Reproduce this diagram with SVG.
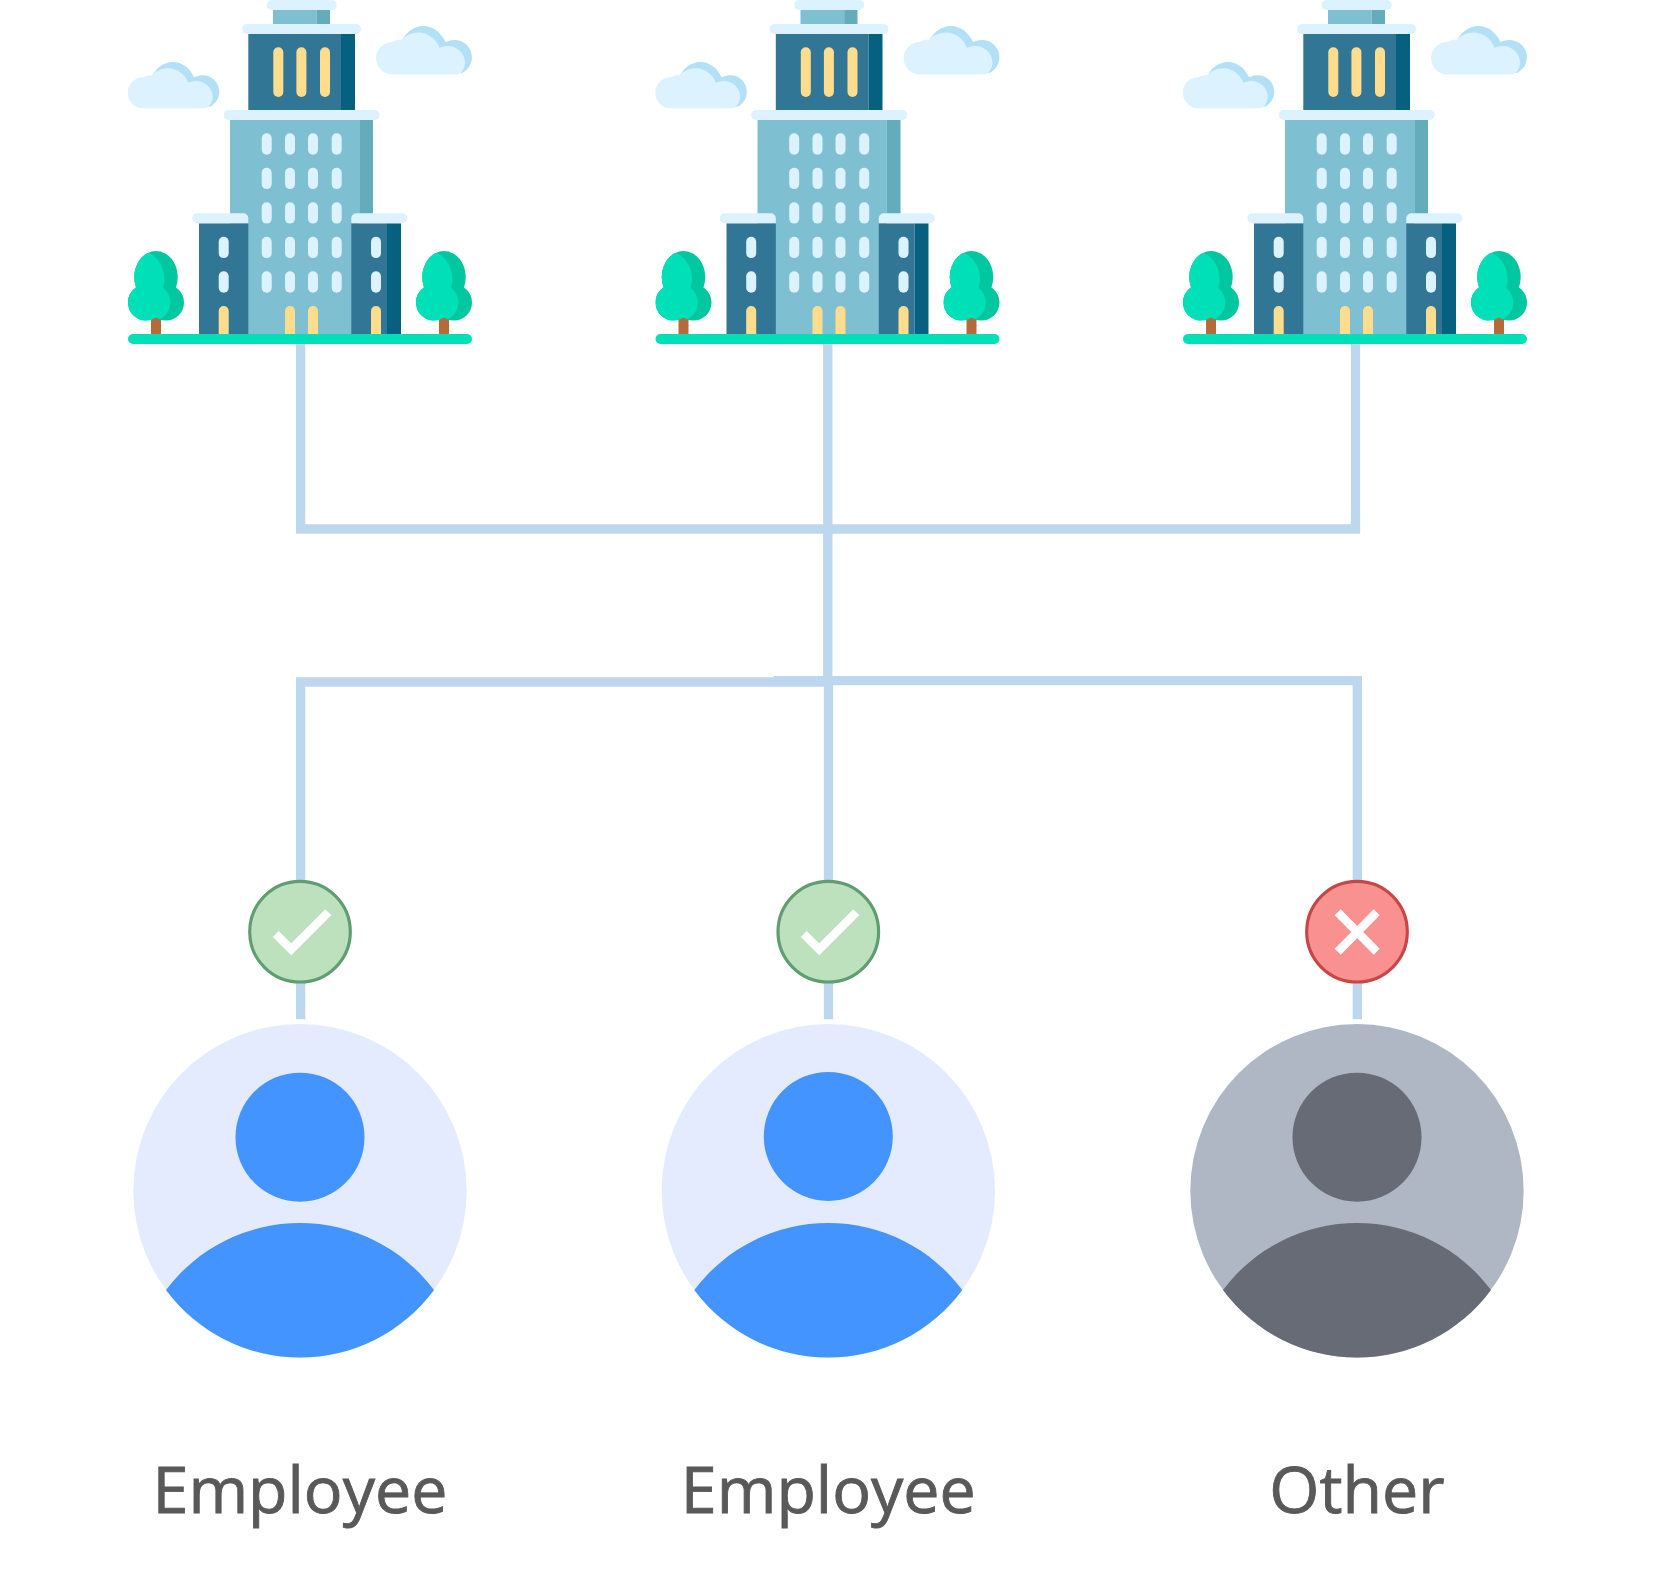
<svg xmlns="http://www.w3.org/2000/svg" width="1659" height="1581" viewBox="0 0 1659 1581">
<style>
.line{fill:none;stroke:#BDD7EE;stroke-width:9.3}
.cap,.win{fill:#DCF2FF}
.top{fill:#7EBFD1}.topd{fill:#64ABBC}
.blue{fill:#327696}.blued{fill:#05617F}
.yel{fill:#FFDD8D}
.green{fill:#00E0B8}.greend{fill:#00C79F}
.trunk{fill:#B56A3A}
.cl{fill:#DCF2FF}.cld{fill:#B2E0F7}
.okb{fill:#BDE0BD;stroke:#5E9E70;stroke-width:3.2}
.nob{fill:#F99191;stroke:#C94646;stroke-width:3.2}
.mark{fill:none;stroke:#FFFFFF;stroke-width:8.5}
.lab{font-family:"Open Sans","Noto Sans",sans-serif;font-size:64.5px;fill:#595959;stroke:#595959;stroke-width:0.9;text-anchor:middle}
</style>
<defs>
<clipPath id="tc"><ellipse cx="156" cy="277" rx="21.7" ry="26"/><circle cx="146" cy="302.5" r="18"/><circle cx="166" cy="302.5" r="18"/></clipPath>
<g id="tree">
<rect class="trunk" x="151" y="316" width="10" height="18"/>
<g class="greend"><ellipse cx="156" cy="277" rx="21.7" ry="26"/><circle cx="146" cy="302.5" r="18"/><circle cx="166" cy="302.5" r="18"/></g>
<g clip-path="url(#tc)" class="green"><ellipse cx="142" cy="279" rx="22.5" ry="27"/><circle cx="152" cy="302.5" r="18.300"/><rect x="128" y="270" width="18" height="51"/></g>
</g>
<g id="cloud">
<path class="cld" d="M150 80C155 68 164 62 172.700 62C182 62 190 68 194 77.300C207 71 219.300 80 219.300 91.700C219.300 99 215 104 210 106.700L190 100L150 90Z"/>
<path class="cl" d="M143.300 108.300A15.300 15.300 0 0 1 143.300 77.300C147 75 150 75 152 75.300C156 71 162 68.300 168 68.300C177 68.300 185 74 188.300 82.700C201 77 212.700 86 212.700 96.700C212.700 100 211.500 104 208 107.300C206 108 204 108.300 203 108.300Z"/>
</g>
<g id="win"><rect class="win" width="10" height="21.400" rx="5"/></g>
<g id="building">
<use href="#cloud"/>
<use href="#cloud" transform="translate(242.300 -39.100) scale(1.047 1.05)"/>
<rect class="top" x="273" y="10" width="43.700" height="14"/><rect class="topd" x="316.700" y="10" width="13.300" height="14"/>
<rect class="cap" x="266.700" y="0" width="70" height="10" rx="5"/>
<rect class="blue" x="248.300" y="34" width="92.700" height="76"/><rect class="blued" x="341" y="34" width="14" height="76"/>
<rect class="cap" x="242" y="24" width="119" height="10" rx="5"/>
<g class="yel"><rect x="273.300" y="47.300" width="10" height="49.700" rx="5"/><rect x="296.400" y="47.300" width="10" height="49.700" rx="5"/><rect x="320" y="47.300" width="10" height="49.700" rx="5"/></g>
<rect class="top" x="230" y="120" width="129.300" height="214"/><rect class="topd" x="359.300" y="120" width="13.700" height="100"/>
<rect class="cap" x="223.700" y="110" width="156" height="10" rx="5"/>
<rect class="top" x="248" y="214" width="103.300" height="120"/>
<rect class="blue" x="199" y="223.300" width="49.300" height="110.700"/>
<path class="cap" d="M197.300 213.300H243.300A5 5 0 0 1 248.300 218.300V223.300H197.300A5 5 0 0 1 197.300 213.300Z"/>
<rect class="blue" x="351.300" y="223.300" width="35.700" height="110.700"/><rect class="blued" x="387" y="223.300" width="14" height="110.700"/>
<path class="cap" d="M402.300 213.300H356.300A5 5 0 0 0 351.300 218.300V223.300H402.300A5 5 0 0 0 402.300 213.300Z"/>
<use href="#win" x="261.700" y="133.300"/><use href="#win" x="285" y="133.300"/><use href="#win" x="308" y="133.300"/><use href="#win" x="331.700" y="133.300"/>
<use href="#win" x="261.700" y="167.700"/><use href="#win" x="285" y="167.700"/><use href="#win" x="308" y="167.700"/><use href="#win" x="331.700" y="167.700"/>
<use href="#win" x="261.700" y="202.200"/><use href="#win" x="285" y="202.200"/><use href="#win" x="308" y="202.200"/><use href="#win" x="331.700" y="202.200"/>
<use href="#win" x="261.700" y="236.700"/><use href="#win" x="285" y="236.700"/><use href="#win" x="308" y="236.700"/><use href="#win" x="331.700" y="236.700"/>
<use href="#win" x="261.700" y="271.300"/><use href="#win" x="285" y="271.300"/><use href="#win" x="308" y="271.300"/><use href="#win" x="331.700" y="271.300"/>
<use href="#win" x="218.700" y="236.700"/><use href="#win" x="218.700" y="271.300"/>
<use href="#win" x="371" y="236.700"/><use href="#win" x="371" y="271.300"/>
<g class="yel">
<path d="M218.700 334V311A5 5 0 0 1 228.700 311V334Z"/><path d="M285 334V311A5 5 0 0 1 295 311V334Z"/><path d="M308 334V311A5 5 0 0 1 318 311V334Z"/><path d="M371 334V311A5 5 0 0 1 381 311V334Z"/>
</g>
<use href="#tree"/><use href="#tree" x="288"/>
<rect class="green" x="128" y="334" width="344" height="10" rx="5"/>
</g>
</defs>
<g id="connectors">
<path class="line" d="M300.600 340V529H1355.500V340"/>
<path class="line" d="M827.800 340V682"/>
<path class="line" d="M828.500 682V1019.300"/>
<path class="line" d="M300.600 1019.300V682H775"/>
<path class="line" d="M773.700 680.700H1357.300V1019.300"/>
<path class="line" d="M775 682H828"/>
</g>
<g id="building-1"><use href="#building"/></g>
<g id="building-2"><use href="#building" x="527.500"/></g>
<g id="building-3"><use href="#building" x="1055"/></g>
<g id="badge-1"><circle class="okb" cx="300" cy="931.700" r="50.300"/><path class="mark" d="M275.700 934L291.300 949.300L328.300 912.300"/></g>
<g id="badge-2"><circle class="okb" cx="828.300" cy="931.700" r="50.300"/><path class="mark" d="M803.700 934L819.300 949.300L856.300 912.300"/></g>
<g id="badge-3"><circle class="nob" cx="1357" cy="931.700" r="50.300"/><path class="mark" d="M1337.700 912.300L1376.700 951.700M1376.700 912.300L1337.700 951.700"/></g>
<g id="user-1"><circle cx="300" cy="1190.700" r="166.700" fill="#E4EBFF"/><circle cx="300" cy="1137.200" r="64.500" fill="#4394FF"/><path fill="#4394FF" d="M166 1290A167.500 167.500 0 0 1 434 1290A166.700 166.700 0 0 1 166 1290Z"/></g>
<g id="user-2"><circle cx="828.300" cy="1190.700" r="166.700" fill="#E4EBFF"/><circle cx="828.300" cy="1136.400" r="64.500" fill="#4394FF"/><path fill="#4394FF" d="M694.300 1290A167.500 167.500 0 0 1 962.300 1290A166.700 166.700 0 0 1 694.300 1290Z"/></g>
<g id="user-3"><circle cx="1357" cy="1190.700" r="166.700" fill="#B0B7C4"/><circle cx="1357" cy="1137.200" r="64.500" fill="#676B75"/><path fill="#676B75" d="M1223 1290A167.500 167.500 0 0 1 1491 1290A166.700 166.700 0 0 1 1223 1290Z"/></g>
<text class="lab" x="300" y="1512.500">Employee</text>
<text class="lab" x="828.300" y="1512.500">Employee</text>
<text class="lab" x="1357" y="1512.500">Other</text>
</svg>
